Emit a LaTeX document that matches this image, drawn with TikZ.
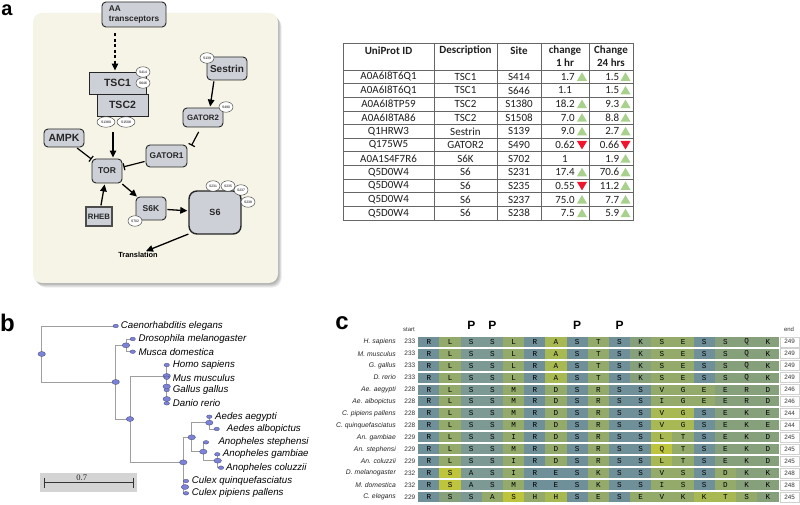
\documentclass[tikz,border=0pt]{standalone}
\usepackage{fontspec}
\setmainfont{Liberation Sans}
\newfontfamily\calib{Carlito}
\newfontfamily\tms{Liberation Serif}
\newfontfamily\mono{Liberation Mono}
\usetikzlibrary{arrows.meta,shapes.geometric,calc}
\definecolor{bgc}{HTML}{F6F4E6}
\definecolor{boxfill}{HTML}{CDD0D7}
\definecolor{tgreen}{HTML}{A9D18E}
\definecolor{tred}{HTML}{F0142D}
\definecolor{tblue}{HTML}{7C82D8}
\definecolor{cB}{HTML}{6F8F99}
\definecolor{cT}{HTML}{7C9A93}
\definecolor{cG}{HTML}{87A07C}
\definecolor{cO}{HTML}{93AA6A}
\definecolor{cY}{HTML}{A8B852}
\definecolor{cYY}{HTML}{BEC43C}
\tikzset{
  prot/.style={draw=black!85, fill=boxfill, rounded corners=4pt, line width=0.9pt, inner sep=0pt, text=black!85},
  sq/.style={draw=black!85, fill=boxfill, line width=0.9pt, inner sep=0pt, text=black!85},
  site/.style={ellipse, draw=black!80, fill=white, line width=0.4pt, inner sep=0pt, minimum width=14, minimum height=10.5, font=\fontsize{3.4}{4}\selectfont},
  sitel/.style={site, minimum width=18},
  arr/.style={-{Triangle[length=7pt,width=6.5pt]}, line width=1.3pt},
  inh/.style={-{Bar[width=7pt,line width=1.2pt]}, line width=1.2pt},
  tline/.style={draw=black!60, line width=0.7pt},
  tree/.style={draw=black!38, line width=0.7pt},
  tn/.style={ellipse, fill=tblue, draw=tblue!55!black, line width=0.3pt, minimum width=5.5, minimum height=3.6, inner sep=0pt},
  tnb/.style={tn, minimum width=7.5, minimum height=5},
  sp/.style={anchor=west, font=\itshape\fontsize{9.7}{11}\selectfont, inner sep=0pt},
  triu/.pic={\fill[tgreen] (-5,4) -- (5,4) -- (0,-4.5) -- cycle;},
  trid/.pic={\fill[tred] (-5,-4) -- (5,-4) -- (0,4.5) -- cycle;},
  trin/.pic={}
}
\begin{document}
\begin{tikzpicture}[x=1pt,y=-1pt]
\useasboundingbox[fill=white] (0,0) rectangle (800,505);
% ---------------- panel a ----------------
\node[font=\bfseries\fontsize{20}{20}\selectfont, inner sep=0pt] (la) at (7,10) {a};
\foreach \i in {1,...,5}
  \fill[black, opacity=0.07, rounded corners=9pt] ($(33,13)+(\i*0.7,\i*0.9)$) rectangle ($(278,283)+(\i*0.7,\i*0.9)$);
\fill[bgc, rounded corners=9pt] (33,13) rectangle (278,283);

\node[prot, minimum width=64, minimum height=25, align=left, font=\bfseries\fontsize{8.3}{10}\selectfont] (AA) at (134,14.5) {AA\\transceptors};
\node[sq, minimum width=57, minimum height=22, font=\bfseries\fontsize{10.5}{12}\selectfont] (TSC1) at (117.5,83) {TSC1};
\node[sq, minimum width=51, minimum height=22, font=\bfseries\fontsize{10.5}{12}\selectfont] (TSC2) at (122.5,105) {TSC2};
\node[site] (s414) at (143,72) {S414};
\node[site] (s646) at (143,83) {S646};
\node[sitel] (s1380) at (106,122) {S1380};
\node[sitel] (s1508) at (126,122) {S1508};
\node[prot, minimum width=40, minimum height=23, font=\bfseries\fontsize{10}{12}\selectfont] (Sestrin) at (227,68.5) {Sestrin};
\node[site] (s139) at (207,58) {S139};
\node[prot, minimum width=40, minimum height=19, font=\bfseries\fontsize{7.8}{9}\selectfont] (GATOR2) at (203,117.5) {GATOR2};
\node[site] (s490) at (226,107) {S490};
\node[prot, minimum width=40, minimum height=18, font=\bfseries\fontsize{10.5}{12}\selectfont] (AMPK) at (64,138) {AMPK};
\node[prot, minimum width=41, minimum height=22, font=\bfseries\fontsize{8.3}{10}\selectfont] (GATOR1) at (166.5,156) {GATOR1};
\node[prot, minimum width=30, minimum height=24, font=\bfseries\fontsize{8.5}{10}\selectfont] (TOR) at (107,171) {TOR};
\node[sq, draw=black!70, line width=1.2pt, minimum width=26, minimum height=19, font=\bfseries\fontsize{7.8}{9}\selectfont] (RHEB) at (99,216.5) {RHEB};
\node[prot, minimum width=30, minimum height=23, font=\bfseries\fontsize{8.5}{10}\selectfont] (S6K) at (151,208.5) {S6K};
\node[site] (s702) at (135,221) {S702};
\node[prot, rounded corners=8pt, line width=1.4pt, minimum width=52, minimum height=43, font=\bfseries\fontsize{9}{10}\selectfont] (S6) at (215,212.5) {S6};
\node[site] (s231) at (213,186) {S231};
\node[site] (s235) at (228,186) {S235};
\node[site] (s237) at (241,190) {S237};
\node[site] (s238) at (248,202) {S238};
\node[font=\bfseries\fontsize{7.4}{9}\selectfont, inner sep=1pt] (Transl) at (138,255) {Translation};

\draw[arr, dash pattern=on 3pt off 2.5pt, shorten <=6pt, shorten >=1pt] ([xshift=-2.5pt]TSC1.north |- AA.south) -- ([xshift=-2.5pt]TSC1.north);
\draw[arr, shorten <=16pt, shorten >=1pt] ([xshift=6pt]TOR.north |- TSC2.south) -- ([xshift=6pt]TOR.north);
\draw[arr, shorten <=1pt, shorten >=1pt] ([xshift=-13pt]Sestrin.south) -- ([xshift=7pt]GATOR2.north);
\draw[inh, shorten <=5pt] ([xshift=-2pt]GATOR2.south) -- ([shift={(4pt,-1pt)}]GATOR1.north east);
\draw[inh, shorten <=1pt] (AMPK) -- (TOR);
\draw[inh, shorten <=1pt, shorten >=1pt] (GATOR1) -- (TOR);
\draw[arr, shorten <=1pt, shorten >=1pt] (RHEB) -- (TOR);
\draw[arr, shorten <=1pt, shorten >=0pt] (TOR) -- (S6K);
\draw[arr, shorten <=1pt, shorten >=1pt] (S6K) -- (S6);
\draw[arr, shorten <=1pt] ([shift={(1pt,1pt)}]S6.south west) -- ([xshift=8pt]Transl.north);

% ---------------- table ----------------
\begin{scope}[font=\calib\fontsize{11}{13}\selectfont, text=black!88]
\draw[tline] (343,43) rectangle (633,220);
\foreach \xx in {434,497,541,589} \draw[tline] (\xx,43) -- (\xx,220);
\foreach \i in {0,...,10} \draw[tline] (343,{70+\i*13.636}) -- (633,{70+\i*13.636});
\node[font=\calib\bfseries\fontsize{11}{13}\selectfont] (h1) at (388.5,50.5) {UniProt ID};
\node[font=\calib\bfseries\fontsize{11}{13}\selectfont] (h2) at (465.5,50.5) {Description};
\node[font=\calib\bfseries\fontsize{11}{13}\selectfont] (h3) at (519,50.5) {Site};
\node[font=\calib\bfseries\fontsize{11}{13}\selectfont, align=center] (h4) at (565,56.5) {change\\1 hr};
\node[font=\calib\bfseries\fontsize{11}{13}\selectfont, align=center] (h5) at (611,56.5) {Change\\24 hrs};
\foreach \id/\desc/\site/\va/\ta/\vb/\tb [count=\i] in {
 A0A6I8T6Q1/TSC1/S414/1.7/u/1.5/u,
 A0A6I8T6Q1/TSC1/S646/1.1/n/1.5/u,
 A0A6I8TP59/TSC2/S1380/18.2/u/9.3/u,
 A0A6I8TA86/TSC2/S1508/7.0/u/8.8/u,
 Q1HRW3/Sestrin/S139/9.0/u/2.7/u,
 Q175W5/GATOR2/S490/0.62/d/0.66/d,
 A0A1S4F7R6/S6K/S702/1/n/1.9/u,
 Q5D0W4/S6/S231/17.4/u/70.6/u,
 Q5D0W4/S6/S235/0.55/d/11.2/u,
 Q5D0W4/S6/S237/75.0/u/7.7/u,
 Q5D0W4/S6/S238/7.5/u/5.9/u}{
  \pgfmathsetmacro\yy{70+(\i-0.5)*13.636}
  \node at (388.5,\yy) {\id};
  \node at (465.5,\yy) {\desc};
  \node at (519,\yy) {\site};
  \ifnum\pdfstrcmp{\ta}{n}=0
    \node at (565,\yy) {\va};
  \else
    \node[anchor=east, inner xsep=0pt] at (575,\yy) {\va};
    \pic at (582,\yy) {tri\ta};
  \fi
  \node[anchor=east, inner xsep=0pt] at (619.5,\yy) {\vb};
  \pic at (625.5,\yy) {tri\tb};
}
\end{scope}

% ---------------- panel b ----------------
\node[font=\bfseries\fontsize{24}{24}\selectfont, inner sep=0pt] (lb) at (7.5,322.5) {b};
\coordinate (r0) at (41.7,354);
\coordinate (ce) at (115.7,326);
\coordinate (n1) at (115.7,382);
\coordinate (dm) at (126,345.3);
\coordinate (dro) at (132.7,339);
\coordinate (mus) at (132.7,351.7);
\coordinate (n2) at (130,419);
\coordinate (vt) at (166.7,376);
\coordinate (hs) at (166.7,365);
\coordinate (mm) at (166.7,377.7);
\coordinate (gg) at (166.7,390);
\coordinate (dr) at (166.7,403.3);
\coordinate (ins) at (183.3,462.3);
\coordinate (n3) at (191.7,437.3);
\coordinate (aed) at (209.3,422.7);
\coordinate (aeg) at (209.3,416.7);
\coordinate (alb) at (216.7,429);
\coordinate (ano) at (203.3,451.7);
\coordinate (ast) at (206,442.3);
\coordinate (agc) at (217.7,460.7);
\coordinate (agam) at (217.3,454.3);
\coordinate (acol) at (221,467.7);
\coordinate (cq) at (186,481);
\coordinate (cp) at (186,493.3);
\coordinate (cul) at (185,487);
\draw[tree] (r0) |- (ce);
\draw[tree] (r0) |- (n1);
\draw[tree] (n1) |- (dm);
\draw[tree] (n1) |- (n2);
\draw[tree] (dm) |- (dro);
\draw[tree] (dm) |- (mus);
\draw[tree] (n2) |- (vt);
\draw[tree] (n2) |- (ins);
\draw[tree] (hs) -- (dr);
\draw[tree] (ins) |- (n3);
\draw[tree] (ins) |- (cq);
\draw[tree] (ins) |- (cp);
\draw[tree] (n3) |- (aed);
\draw[tree] (n3) |- (ano);
\draw[tree] (aed) |- (aeg);
\draw[tree] (aed) |- (alb);
\draw[tree] (ano) |- (ast);
\draw[tree] (ano) |- (agc);
\draw[tree] (agc) |- (agam);
\draw[tree] (agc) |- (acol);
\foreach \p in {r0,n1,dm,n2,vt,ins,n3,aed,ano,agc,cul} \node[tnb] at (\p) {};
\foreach \p in {ce,dro,mus,hs,mm,gg,dr,aeg,alb,ast,agam,acol,cq,cp} \node[tn] at (\p) {};
\node[tnb] at (166.7,386.5) {};
\node[tnb] at (166.7,399) {};
\node[sp] (Lce) at (120.7,326) {Caenorhabditis elegans};
\node[sp] (Ldro) at (138.3,339) {Drosophila melanogaster};
\node[sp] (Lmus) at (138.3,351.7) {Musca domestica};
\node[sp] (Lhs) at (172.7,365) {Homo sapiens};
\node[sp] (Lmm) at (172.7,377.7) {Mus musculus};
\node[sp] (Lgg) at (172.7,390) {Gallus gallus};
\node[sp] (Ldr) at (172.7,403.3) {Danio rerio};
\node[sp] (Laeg) at (215,416.7) {Aedes aegypti};
\node[sp] (Lalb) at (226.7,429) {Aedes albopictus};
\node[sp] (Last) at (218.3,442.3) {Anopheles stephensi};
\node[sp] (Lagam) at (222.7,454.3) {Anopheles gambiae};
\node[sp] (Lacol) at (226,467.7) {Anopheles coluzzii};
\node[sp] (Lcq) at (191.7,481) {Culex quinquefasciatus};
\node[sp] (Lcp) at (191.7,493.3) {Culex pipiens pallens};
% scale bar
\fill[black!17] (40,472.7) rectangle (137.3,492.3);
\coordinate (sb1) at (44.3,482.7);
\coordinate (sb2) at (133.3,482.7);
\draw[black!80, line width=0.8pt] (sb1) -- (sb2);
\draw[black!80, line width=0.8pt] ($(sb1)+(0,-5)$) -- ($(sb1)+(0,5)$);
\draw[black!80, line width=0.8pt] ($(sb2)+(0,-5)$) -- ($(sb2)+(0,5)$);
\node[font=\tms\fontsize{8.5}{9}\selectfont, inner sep=0pt, text=black!85] (sbl) at (81.7,477.3) {0.7};

% ---------------- panel c ----------------
\node[font=\bfseries\fontsize{24}{24}\selectfont, inner sep=0pt] (lc) at (342,323) {c};
\node[font=\fontsize{6}{7}\selectfont, inner sep=0pt, text=black!80] (start) at (409,329.5) {start};
\node[font=\fontsize{6}{7}\selectfont, inner sep=0pt, text=black!80] (endl) at (789,329.5) {end};
\foreach \c in {3,4,8,10}
  \node[font=\bfseries\fontsize{12}{12}\selectfont, inner sep=0pt] at ({418.3+(\c-0.5)*21.18},325) {P};
\foreach \nm/\st/\en/\seq [count=\r] in {
 {H. sapiens}/233/249/{R/B,L/O,S/T,S/T,L/O,R/B,A/Y,S/B,T/O,S/B,K/G,S/O,E/O,S/B,S/G,Q/G,K/G},
 {M. musculus}/233/249/{R/B,L/O,S/T,S/T,L/O,R/B,A/Y,S/B,T/O,S/B,K/G,S/O,E/O,S/B,S/G,Q/G,K/G},
 {G. gallus}/233/249/{R/B,L/O,S/T,S/T,L/O,R/B,A/Y,S/B,T/O,S/B,K/G,S/O,E/O,S/B,S/G,Q/G,K/G},
 {D. rerio}/233/249/{R/B,L/O,S/T,S/T,L/O,R/B,A/Y,S/B,T/O,S/B,K/G,S/O,E/O,S/B,S/G,Q/G,K/G},
 {Ae. aegypti}/228/246/{R/B,L/O,S/T,S/T,M/O,R/B,D/O,S/B,R/O,S/B,S/B,V/O,G/O,E/O,E/G,R/G,D/G},
 {Ae. albopictus}/228/246/{R/B,L/O,S/T,S/T,M/O,R/B,D/O,S/B,R/O,S/B,S/B,I/O,G/O,E/O,E/G,R/G,D/G},
 {C. pipiens pallens}/228/244/{R/B,L/O,S/T,S/T,M/O,R/B,D/O,S/B,R/O,S/B,S/B,V/Y,G/Y,S/B,E/G,K/G,E/G},
 {C. quinquefasciatus}/228/244/{R/B,L/O,S/T,S/T,M/O,R/B,D/O,S/B,R/O,S/B,S/B,V/Y,G/Y,S/B,E/G,K/G,E/G},
 {An. gambiae}/229/245/{R/B,L/O,S/T,S/T,I/O,R/B,D/O,S/B,R/O,S/B,S/B,L/Y,T/O,S/B,E/G,K/G,D/G},
 {An. stephensi}/229/245/{R/B,L/O,S/T,S/T,M/O,R/B,D/O,S/B,R/O,S/B,S/B,Q/YY,T/O,S/B,E/G,K/G,D/G},
 {An. coluzzii}/229/245/{R/B,L/O,S/T,S/T,I/O,R/B,D/O,S/B,R/O,S/B,S/B,L/Y,T/O,S/B,E/G,K/G,D/G},
 {D. melanogaster}/232/248/{R/B,S/YY,A/T,S/T,I/O,R/B,E/B,S/B,K/O,S/B,S/B,V/O,S/O,S/B,D/O,K/G,K/G},
 {M. domestica}/232/248/{R/B,S/YY,A/T,S/T,M/O,R/B,E/B,S/B,K/O,S/B,S/B,I/O,S/O,S/B,D/O,K/G,K/G},
 {C. elegans}/229/245/{R/B,S/G,S/T,A/O,S/YY,H/O,H/Y,S/B,E/O,S/B,E/O,V/O,K/O,K/Y,T/Y,S/O,K/G}}{
  \pgfmathsetmacro\yt{336.7+(\r-1)*11.95}
  \pgfmathsetmacro\ym{\yt+5}
  \node[anchor=east, inner sep=0pt, font=\itshape\fontsize{6.8}{8}\selectfont, text=black!85] at (396,\ym) {\nm};
  \node[anchor=east, inner sep=0pt, font=\fontsize{6.5}{8}\selectfont, text=black!80] at (415.5,\ym) {\st};
  \foreach \a/\k [count=\c] in \seq {
    \fill[c\k] ({418.3+(\c-1)*21.18},\yt) rectangle ({418.3+\c*21.18+0.3},\yt+10);
    \node[inner sep=0pt, font=\mono\fontsize{7.6}{8}\selectfont, text=black] at ({418.3+(\c-0.5)*21.18},\ym) {\a};
  }
  \draw[black!18, line width=0.4pt, fill=white] (780.5,\yt) rectangle (799,\yt+10);
  \node[inner sep=0pt, font=\fontsize{6.3}{8}\selectfont, text=black!80] at (789.7,\ym) {\en};
}
\end{tikzpicture}
\end{document}
